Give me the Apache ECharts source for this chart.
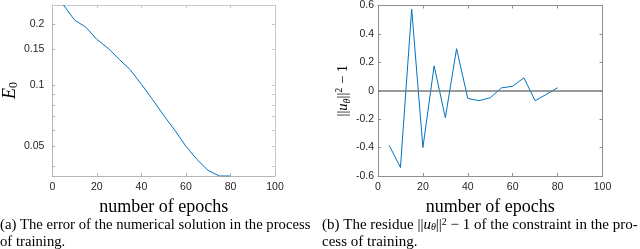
<!DOCTYPE html>
<html><head><meta charset="utf-8">
<script src="https://cdn.jsdelivr.net/npm/echarts@6/dist/echarts.min.js"></script>
<style>html,body{margin:0;padding:0;background:#fff}#c{width:640px;height:249px}</style>
</head><body><div id="c"></div>
<script>
const epochs = [5,10,15,20,25,30,35,40,45,50,55,60,65,70,75,80];
const errorE0 = [0.248,0.209,0.193,0.168,0.152,0.134,0.119,0.101,0.085,0.071,0.060,0.050,0.043,0.038,0.0357,0.0357];
const residue = [-0.385,-0.54,0.574,-0.40,0.175,-0.19,0.296,-0.054,-0.07,-0.049,0.02,0.032,0.091,-0.07,-0.025,0.021];
const xTicks = [0,20,40,60,80,100];
const leftYTicks = [0.05,0.1,0.15,0.2];
const leftYMinor = [0.04,0.06,0.07,0.08,0.09];
const leftYRange = [0.0357, 0.248];
const rightYRange = [-0.6, 0.6];
const zeroLine = 0;

const chart = echarts.init(document.getElementById('c'), null, {renderer:'canvas'});
const TXT = '#262626';
const serif = 'Liberation Serif';
const sans = 'Liberation Sans';
function xAx(grid, pos, show, col){
  return {type:'value', gridIndex:grid, position:pos, min:xTicks[0], max:xTicks[xTicks.length-1], interval:xTicks[1]-xTicks[0],
    axisLine:{show:true, onZero:false, lineStyle:{color:col, width:1}},
    axisTick:{show:true, inside:true, length:3, lineStyle:{color:col}},
    axisLabel:{show:show, color:TXT, fontSize:10.5, fontFamily:sans, margin:6},
    splitLine:{show:false},
    name: show ? '{a|number of epochs}' : '', nameLocation:'middle', nameGap:9,
    nameTextStyle:{fontFamily:serif, fontSize:18, color:'#000', rich:{a:{fontFamily:serif, fontSize:18, color:'#000'}}}};
}
const capRich = {i:{fontStyle:'italic', fontFamily:serif, fontSize:15}, s:{fontStyle:'italic', fontFamily:serif, fontSize:10, padding:[5,0,0,0]}, p:{fontFamily:serif, fontSize:10, padding:[0,0,6,0]}};
const option = {
  animation:false,
  grid:[{left:50, top:5, width:225, height:171},{left:378, top:5, width:224.5, height:171}],
  xAxis:[xAx(0,'bottom',true,'#b5b5b5'), xAx(0,'top',false,'#c8c8c8'), xAx(1,'bottom',true,'#8f8f8f'), xAx(1,'top',false,'#8f8f8f')],
  yAxis:[
    {type:'log', gridIndex:0, position:'left', min:leftYRange[0], max:leftYRange[1], logBase:10,
     axisLine:{show:true, onZero:false, lineStyle:{color:'#b5b5b5'}},
     axisTick:{show:true, inside:true, length:3, lineStyle:{color:'#b5b5b5'}, customValues: leftYTicks.concat(leftYMinor)},
     axisLabel:{color:TXT, fontSize:10.5, fontFamily:sans, margin:8, customValues: leftYTicks, formatter:v=>String(+v.toFixed(2))},
     splitLine:{show:false}, minorTick:{show:false},
     name:'{i|E}{s|0}', nameLocation:'middle', nameRotate:90, nameGap:26,
     nameTextStyle:{rich:{i:{fontFamily:serif, fontStyle:'italic', fontSize:18, color:'#000'}, s:{fontFamily:serif, fontSize:12, color:'#000', padding:[8,0,0,0]}}}},
    {type:'log', gridIndex:0, position:'right', min:leftYRange[0], max:leftYRange[1], logBase:10,
     axisLine:{show:true, onZero:false, lineStyle:{color:'#c8c8c8'}},
     axisTick:{show:true, inside:true, length:3, lineStyle:{color:'#c8c8c8'}, customValues: leftYTicks.concat(leftYMinor)},
     axisLabel:{show:false}, splitLine:{show:false}},
    {type:'value', gridIndex:1, position:'left', min:rightYRange[0], max:rightYRange[1], interval:0.2,
     axisLine:{show:true, onZero:false, lineStyle:{color:'#8f8f8f'}},
     axisTick:{show:true, inside:true, length:3, lineStyle:{color:'#8f8f8f'}},
     axisLabel:{color:TXT, fontSize:10.5, fontFamily:sans, margin:4, formatter:v=>String(+v.toFixed(1))},
     splitLine:{show:false},
     name:'{n|||}{i|u}{s|θ}{n|||}{p|2}{n| − 1}', nameLocation:'middle', nameRotate:90, nameGap:25,
     nameTextStyle:{fontFamily:serif, fontSize:14.5, color:'#000', rich:{n:{fontFamily:serif, fontSize:14.5, color:'#000'}, i:{fontFamily:serif, fontStyle:'italic', fontSize:14.5, color:'#000'}, s:{fontFamily:serif, fontStyle:'italic', fontSize:10, color:'#000', padding:[7,0,0,0]}, p:{fontFamily:serif, fontSize:10, color:'#000', padding:[0,0,9,0]}}}},
    {type:'value', gridIndex:1, position:'right', min:rightYRange[0], max:rightYRange[1], interval:0.2,
     axisLine:{show:true, onZero:false, lineStyle:{color:'#8f8f8f'}},
     axisTick:{show:true, inside:true, length:3, lineStyle:{color:'#8f8f8f'}},
     axisLabel:{show:false}, splitLine:{show:false}}
  ],
  series:[
    {type:'line', xAxisIndex:0, yAxisIndex:0, data:epochs.map((x,i)=>[x,errorE0[i]]), showSymbol:false,
     lineStyle:{color:'#0072BD', width:1}, silent:true},
    {type:'line', xAxisIndex:2, yAxisIndex:2, data:epochs.map((x,i)=>[x,residue[i]]), showSymbol:false,
     lineStyle:{color:'#0072BD', width:1}, silent:true,
     markLine:{silent:true, symbol:'none', label:{show:false}, lineStyle:{color:'#7a7a7a', width:1.5, type:'solid'}, data:[{yAxis:zeroLine}]}}
  ],
  graphic:[
    {type:'text', left:0, top:217, style:{text:'(a) The error of the numerical solution in the process\nof training.', font:'14.7px "Liberation Serif"', fill:'#000', lineHeight:16.5}},
    {type:'text', left:322, top:217, style:{text:'(b) The residue ||{i|u}{s|θ}||{p|2} − 1 of the constraint in the pro-\ncess of training.', font:'15px "Liberation Serif"', fill:'#000', lineHeight:16.5, rich:capRich}}
  ]
};
chart.setOption(option);
</script></body></html>
